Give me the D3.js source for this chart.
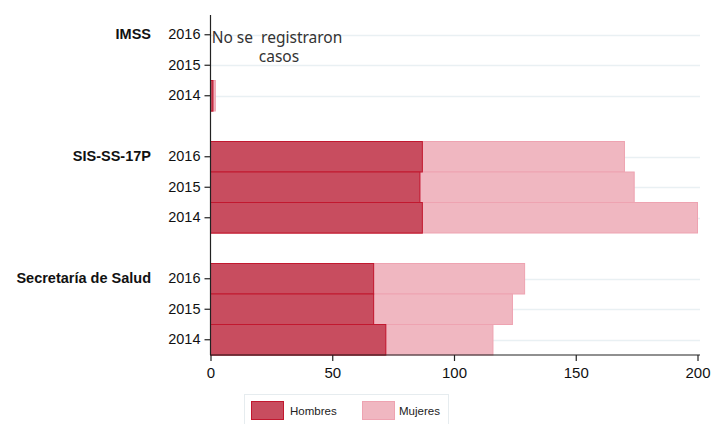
<!DOCTYPE html>
<html>
<head>
<meta charset="utf-8">
<script src="https://cdn.jsdelivr.net/npm/d3@7"></script>
<style>
  body { margin: 0; background: #fff; }
  svg { display: block; font-family: "Liberation Sans", Arial, sans-serif; }
</style>
</head>
<body>
<svg id="chart" width="720" height="424"></svg>
<script>
// Stacked horizontal bars: cases by institution and year, men vs women.

const institutions = ["IMSS", "SIS-SS-17P", "Secretaría de Salud"];
const years = ["2016", "2015", "2014"];
const hombres = [
  [0, 0, 1],      // IMSS
  [87, 86, 87],   // SIS-SS-17P
  [67, 67, 72]    // Secretaría de Salud
];
const mujeres = [
  [0, 0, 1],
  [83, 88, 113],
  [62, 57, 44]
];
const xTicks = [0, 50, 100, 150, 200];
const seriesNames = ["Hombres", "Mujeres"];

const svg = d3.select("#chart");

const margin = { top: 19.5, left: 210.5, right: 700, bottom: 355 };

// one slot per year, plus an empty slot between institutions
const slots = [];
institutions.forEach((inst, i) => {
  years.forEach(yr => slots.push(inst + "|" + yr));
  if (i < institutions.length - 1) slots.push("gap" + i);
});

const x = d3.scaleLinear().domain([0, 200]).range([margin.left, 697.5]);
const y = d3.scaleBand().domain(slots).range([margin.top, margin.bottom]).padding(0);

const color = d3.scaleOrdinal().domain(seriesNames).range(["#c84d5f", "#f0b7c1"]);
const stroke = d3.scaleOrdinal().domain(seriesNames).range(["#c2182f", "#eea3b1"]);

const rows = [];
institutions.forEach((inst, i) => {
  years.forEach((yr, j) => {
    rows.push({ key: inst + "|" + yr, inst, yr, Hombres: hombres[i][j], Mujeres: mujeres[i][j] });
  });
});

// grid lines at each year
svg.append("g")
  .selectAll("line")
  .data(rows)
  .join("line")
  .attr("x1", margin.left)
  .attr("x2", margin.right)
  .attr("y1", d => Math.round(y(d.key) + y.bandwidth() / 2) + 0.5)
  .attr("y2", d => Math.round(y(d.key) + y.bandwidth() / 2) + 0.5)
  .attr("stroke", "#e9f0f3")
  .attr("stroke-width", 1.5);

const stack = d3.stack().keys(seriesNames)(rows);

svg.append("g")
  .selectAll("g")
  .data(stack)
  .join("g")
  .attr("fill", d => color(d.key))
  .attr("stroke", d => stroke(d.key))
  .selectAll("rect")
  .data(d => d.filter(p => p[1] > p[0]))
  .join("rect")
  .attr("x", d => x(d[0]))
  .attr("y", d => y(d.data.key))
  .attr("width", d => x(d[1]) - x(d[0]))
  .attr("height", y.bandwidth())
  .attr("stroke-width", 1);

// redraw Hombres on top so its border stays visible
svg.append("g")
  .selectAll("rect")
  .data(stack[0].filter(p => p[1] > p[0]))
  .join("rect")
  .attr("x", d => x(d[0]))
  .attr("y", d => y(d.data.key))
  .attr("width", d => x(d[1]) - x(d[0]))
  .attr("height", y.bandwidth())
  .attr("fill", color("Hombres"))
  .attr("stroke", stroke("Hombres"));

// y axis
const yAxis = d3.axisLeft(y)
  .tickValues(rows.map(d => d.key))
  .tickFormat(d => d.split("|")[1])
  .tickSize(6)
  .tickPadding(4);

const gy = svg.append("g")
  .attr("transform", `translate(${margin.left},0)`)
  .call(yAxis);
gy.select(".domain").remove();
gy.selectAll("line").attr("stroke", "#222").attr("stroke-width", 1.2);
gy.selectAll("text").attr("font-size", 14.5).attr("fill", "#111").attr("font-family", "Liberation Sans, Arial");

svg.append("line")
  .attr("x1", margin.left).attr("x2", margin.left)
  .attr("y1", 15).attr("y2", margin.bottom)
  .attr("stroke", "#222").attr("stroke-width", 1.2);

// institution labels
svg.append("g")
  .selectAll("text")
  .data(institutions)
  .join("text")
  .attr("x", 151)
  .attr("y", d => y(d + "|2016") + y.bandwidth() / 2)
  .attr("dy", "0.3em")
  .attr("text-anchor", "end")
  .attr("font-size", 14.5)
  .attr("font-weight", "bold")
  .attr("fill", "#111")
  .text(d => d);

// x axis
const gx = svg.append("g")
  .attr("transform", `translate(0,${margin.bottom})`)
  .call(d3.axisBottom(x).tickValues(xTicks).tickSize(6).tickPadding(6));
gx.select(".domain").attr("d", `M${margin.left},0H${margin.right}`).attr("stroke", "#222").attr("stroke-width", 1.2);
gx.selectAll("line").attr("stroke", "#222").attr("stroke-width", 1.2);
gx.selectAll("text").attr("font-size", 15).attr("fill", "#111").attr("font-family", "Liberation Sans, Arial");

// note for IMSS
const note = svg.append("text")
  .attr("font-family", "Noto Sans, Open Sans, sans-serif")
  .attr("font-size", 15.5)
  .attr("fill", "#333")
  .attr("text-anchor", "middle");
note.append("tspan").attr("x", 277).attr("y", 43).attr("xml:space", "preserve").text("No se\u00a0 registraron");
note.append("tspan").attr("x", 279).attr("y", 62).text("casos");

// legend
const legend = svg.append("g");
legend.append("rect")
  .attr("x", 244.5).attr("y", 394.5)
  .attr("width", 204).attr("height", 40)
  .attr("fill", "#fff").attr("stroke", "#e6ecef");

const legendX = [251, 362];
const items = legend.selectAll("g.item")
  .data(seriesNames)
  .join("g")
  .attr("class", "item")
  .attr("transform", (d, i) => `translate(${legendX[i]},401)`);
items.append("rect")
  .attr("x", 0.5).attr("y", 0.5)
  .attr("width", 32).attr("height", 18)
  .attr("fill", d => color(d))
  .attr("stroke", d => stroke(d));
items.append("text")
  .attr("x", (d, i) => i === 0 ? 39 : 37)
  .attr("y", 14)
  .attr("font-size", 11.5)
  .attr("fill", "#222")
  .text(d => d);
</script>
</body>
</html>
